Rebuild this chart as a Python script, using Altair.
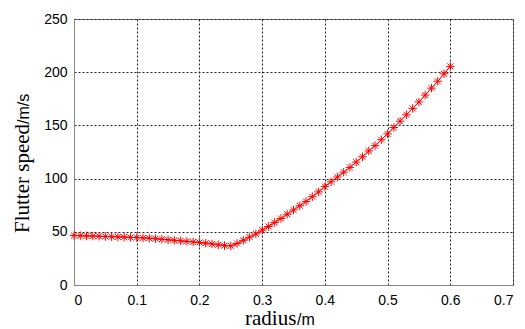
import altair as alt
import pandas as pd

radius = [0.00, 0.01, 0.02, 0.03, 0.04, 0.05, 0.06, 0.07, 0.08, 0.09,
          0.10, 0.11, 0.12, 0.13, 0.14, 0.15, 0.16, 0.17, 0.18, 0.19,
          0.20, 0.21, 0.22, 0.23, 0.24, 0.25, 0.26, 0.27, 0.28, 0.29,
          0.30, 0.31, 0.32, 0.33, 0.34, 0.35, 0.36, 0.37, 0.38, 0.39,
          0.40, 0.41, 0.42, 0.43, 0.44, 0.45, 0.46, 0.47, 0.48, 0.49,
          0.50, 0.51, 0.52, 0.53, 0.54, 0.55, 0.56, 0.57, 0.58, 0.59, 0.60]
speed = [46.5, 46.3, 46.1, 46.0, 45.8, 45.6, 45.4, 45.2, 45.0, 44.8,
         44.6, 44.3, 44.0, 43.5, 43.0, 42.5, 42.0, 41.5, 41.0, 40.5,
         40.0, 39.3, 38.6, 37.8, 37.0, 36.8, 39.0, 42.0, 45.0, 48.0,
         51.5, 55.0, 58.8, 62.5, 66.5, 70.5, 74.5, 78.5, 83.0, 87.5,
         92.5, 97.0, 101.5, 106.0, 110.5, 115.5, 120.5, 126.0, 131.0, 136.5,
         142.0, 148.0, 154.0, 160.0, 166.0, 172.0, 178.5, 185.0, 191.5, 198.5, 205.5]
x_ticks = [0, 0.1, 0.2, 0.3, 0.4, 0.5, 0.6, 0.7]
y_ticks = [0, 50, 100, 150, 200, 250]

df = pd.DataFrame({"radius": radius, "speed": speed})

xs = alt.Scale(domain=[0, 0.7], nice=False, zero=False)
ys = alt.Scale(domain=[0, 250], nice=False)

axis_style = dict(
    grid=True, gridColor="#222222", gridDash=[2, 2], gridOpacity=1, gridWidth=1,
    domainColor="#888888", domainWidth=1, ticks=False,
    labelFont="Liberation Sans", labelFontSize=14, labelColor="black", title=None,
)

xenc = alt.X("radius:Q", scale=xs,
             axis=alt.Axis(values=x_ticks, format="~g", labelPadding=8, **axis_style))
yenc = alt.Y("speed:Q", scale=ys,
             axis=alt.Axis(values=y_ticks, labelPadding=7, **axis_style))

line = alt.Chart(df).mark_line(color="red", strokeWidth=1).encode(x=xenc, y=yenc)
star = "M-1,0L1,0M0,-1L0,1M-0.7,-0.7L0.7,0.7M-0.7,0.7L0.7,-0.7"
pts = alt.Chart(df).mark_point(shape=star, filled=False, color="red", size=72,
                               strokeWidth=1, opacity=1).encode(x=xenc, y=yenc)

def label(txt, x, y, font, size, angle=0):
    d = pd.DataFrame({"t": [txt]})
    kw = dict(align="left", baseline="alphabetic", font=font, fontSize=size, color="black")
    if angle:
        kw["angle"] = angle
    return alt.Chart(d).mark_text(**kw).encode(x=alt.value(x), y=alt.value(y), text="t:N")

xt1 = label("radius", 171, 306, "Liberation Serif", 21)
xt2 = label("/m", 223, 306, "Liberation Sans", 16)
yt1 = label("Flutter speed", -45, 214, "Liberation Serif", 21, 270)
yt2 = label("/m/s", -45, 105, "Liberation Sans", 16, 270)

chart = alt.layer(line, pts, xt1, xt2, yt1, yt2).properties(
    width=439, height=266,
    background="white",
    autosize=alt.AutoSizeParams(type="none"),
    padding={"left": 74, "top": 19, "right": 12, "bottom": 44},
).configure_view(stroke="#888888", strokeWidth=1, fill="white")

chart.save("out.html", embed_options={"renderer": "svg", "actions": False})
